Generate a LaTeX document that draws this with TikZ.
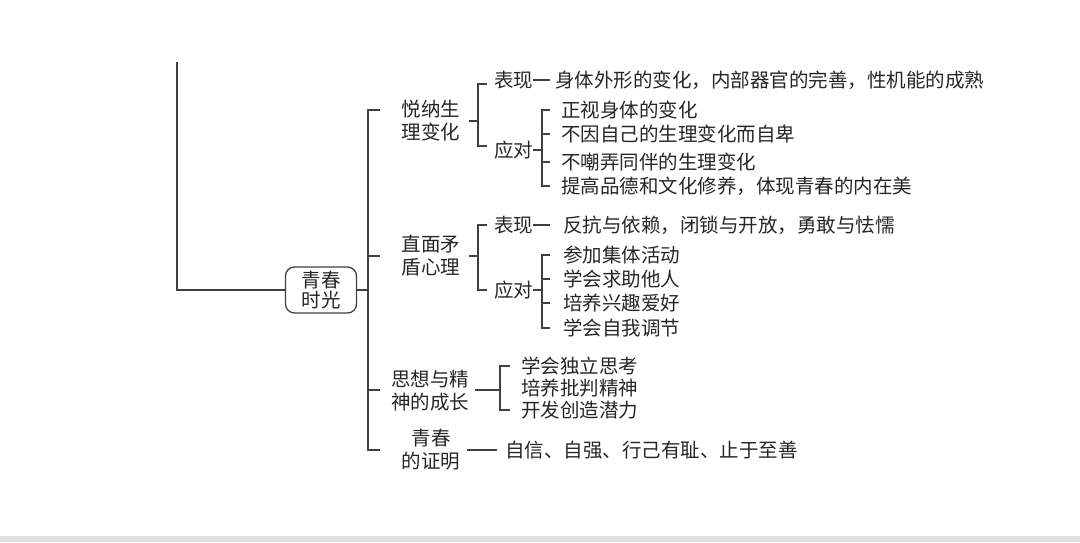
\documentclass[tikz,border=0pt]{standalone}
\usepackage{fontspec}
\setmainfont{Noto Sans CJK SC}
\begin{document}
\begin{tikzpicture}[x=1pt,y=-1pt,
  ln/.style={draw=black!75,line width=1.3pt},
  t/.style={inner sep=0pt,font=\fontsize{19.5}{23}\selectfont,text=black!85},
  tl/.style={t,anchor=west},
  c/.style={t,align=center}]
\useasboundingbox (0,0) rectangle (1080,542);
\fill[black!12] (0,536) rectangle (1080,542);
% root
\node[c,draw=black!75,line width=1.3pt,rounded corners=9pt,minimum width=71pt,minimum height=46pt] (root) at (321,290) {青春\\[-3pt]时光};
\coordinate (top) at (177,62);
\draw[ln] (top) |- (root.west);
% main bracket
\coordinate (m1) at (380,110); \coordinate (m2) at (380,256);
\coordinate (m3) at (380,390); \coordinate (m4) at (380,450);
\draw[ln] (m1) -- (368,110) -- (368,450) -- (m4);
\draw[ln] (m2) -- (368,256); \draw[ln] (m3) -- (368,390);
\draw[ln] (root.east) -- (368,290);
% level 2
\node[c] (a) at (431,121) {悦纳生\\理变化};
\node[c] (b) at (431,256) {直面矛\\盾心理};
\node[c] (cc) at (430,391) {思想与精\\神的成长};
\node[c] (d) at (431,450) {青春\\的证明};
% A
\draw[ln] (469,121) -- (478,121);
\draw[ln] (487,84) -- (478,84) -- (478,146) -- (487,146);
\node[tl] (a1) at (494,80) {表现};
\draw[ln] (a1.east) -- (550,80);
\node[tl] (a1t) at (555,80) {身体外形的变化，内部器官的完善，性机能的成熟};
\node[tl] (a2) at (494,150) {应对};
\draw[ln] (a2.east) -- (542,150);
\draw[ln] (550,110) -- (542,110) -- (542,186) -- (550,186);
\draw[ln] (542,134) -- (550,134); \draw[ln] (542,162) -- (550,162);
\node[tl] at (561,110) {正视身体的变化};
\node[tl] at (561,134) {不因自己的生理变化而自卑};
\node[tl] at (561,162) {不嘲弄同伴的生理变化};
\node[tl] at (561,186) {提高品德和文化修养，体现青春的内在美};
% B
\draw[ln] (469,256) -- (478,256);
\draw[ln] (487,225) -- (478,225) -- (478,290) -- (487,290);
\node[tl] (b1) at (494,225) {表现};
\draw[ln] (b1.east) -- (550,225);
\node[tl] at (563,225) {反抗与依赖，闭锁与开放，勇敢与怯懦};
\node[tl] (b2) at (494,290) {应对};
\draw[ln] (b2.east) -- (542,290);
\draw[ln] (550,255) -- (542,255) -- (542,328) -- (550,328);
\draw[ln] (542,279) -- (550,279); \draw[ln] (542,303) -- (550,303);
\node[tl] at (563,255) {参加集体活动};
\node[tl] at (563,279) {学会求助他人};
\node[tl] at (563,303) {培养兴趣爱好};
\node[tl] at (563,328) {学会自我调节};
% C
\draw[ln] (475,390) -- (500,390);
\draw[ln] (510,366) -- (500,366) -- (500,410) -- (510,410);
\node[tl] at (521,366) {学会独立思考};
\node[tl] at (521,388) {培养批判精神};
\node[tl] at (521,410) {开发创造潜力};
% D
\node[tl] (d1) at (505,450) {自信、自强、行己有耻、止于至善};
\draw[ln] (467,450) -- ([xshift=-8pt]d1.west);
\end{tikzpicture}
\end{document}
